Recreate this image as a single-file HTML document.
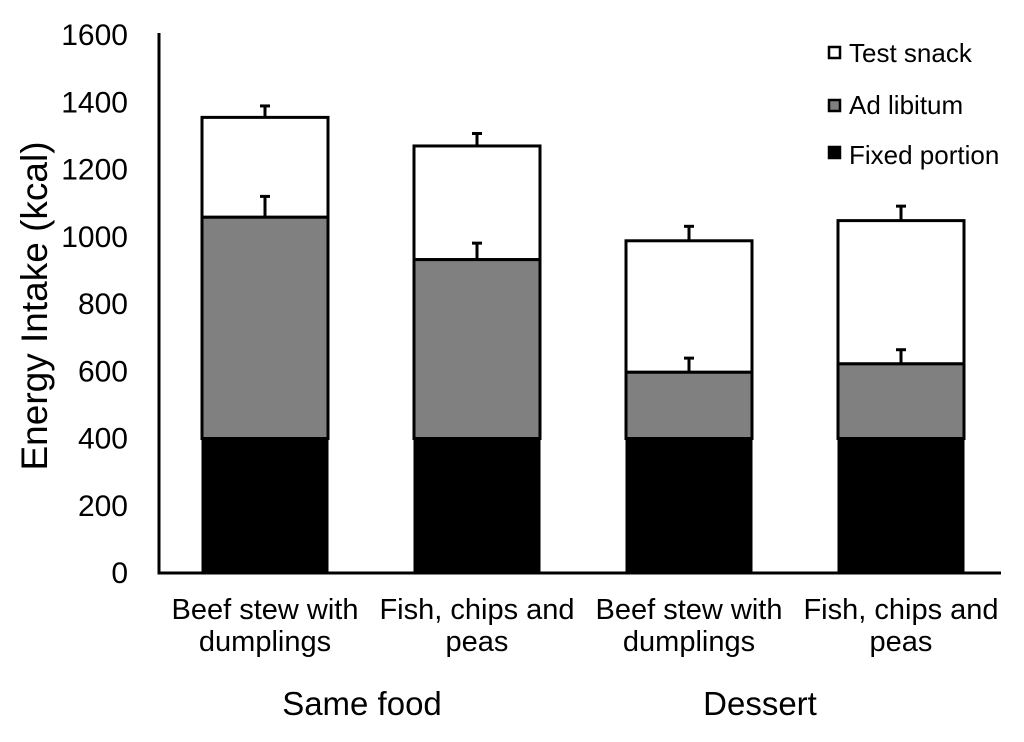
<!DOCTYPE html>
<html><head><meta charset="utf-8"><style>
html,body{margin:0;padding:0;background:#fff;}
svg{display:block;font-family:"Liberation Sans",Arial,sans-serif;}
</style></head><body>
<svg id="chart" width="1024" height="742" viewBox="0 0 1024 742">
<g id="bars"></g>
<g id="axes"></g>
<g id="legend">
  <rect x="829" y="47" width="11" height="11" fill="#fff" stroke="#000" stroke-width="2.5"/>
  <text x="849" y="62" font-size="26">Test snack</text>
  <rect x="829" y="100" width="11" height="11" fill="#808080" stroke="#000" stroke-width="2.5"/>
  <text x="849" y="114" font-size="26">Ad libitum</text>
  <rect x="829" y="147" width="11" height="11" fill="#000" stroke="#000" stroke-width="2.5"/>
  <text x="849" y="164" font-size="26">Fixed portion</text>
</g>
</svg>
<script>
const categories = [["Beef stew with","dumplings"],["Fish, chips and","peas"],["Beef stew with","dumplings"],["Fish, chips and","peas"]];
const groups = ["Same food","Dessert"];
const fixedPortion = [400,400,400,400];
const adLibitumTotal = [1058,932,597,622];
const testSnackTotal = [1355,1270,988,1048];
const adLibitumErr = [65,52,45,45];
const testSnackErr = [37,40,46,46];
const yTicks = [0,200,400,600,800,1000,1200,1400,1600];

const NS="http://www.w3.org/2000/svg";
const y0=573, yTop=35, yMax=1600;
function y(v){return y0-(v/yMax)*(y0-yTop);}
const bandStart=159, bandW=212, barW=126;
function xc(i){return bandStart+bandW*i+bandW/2;}
const groupShift=[-9,-35];
function mk(tag,attrs,parent){const e=document.createElementNS(NS,tag);for(const k in attrs)e.setAttribute(k,attrs[k]);parent.appendChild(e);return e;}
const bars=document.getElementById('bars'), axes=document.getElementById('axes');

categories.forEach((c,i)=>{
  const cx=xc(i), x=cx-barW/2;
  const r1=mk('rect',{x:x,y:y(testSnackTotal[i]),width:barW,height:y(adLibitumTotal[i])-y(testSnackTotal[i]),fill:'#fff',stroke:'#000','stroke-width':3},bars);
  
  
  const r2=mk('rect',{x:x,y:y(adLibitumTotal[i]),width:barW,height:y(fixedPortion[i])-y(adLibitumTotal[i]),fill:'#808080',stroke:'#000','stroke-width':3},bars);
  
  
  const r3=mk('rect',{x:x,y:y(fixedPortion[i]),width:barW,height:y(0)-y(fixedPortion[i]),fill:'#000',stroke:'#000','stroke-width':1},bars);
  
  
  [[testSnackTotal[i],testSnackErr[i],'test-snack'],[adLibitumTotal[i],adLibitumErr[i],'ad-libitum']].forEach(([v,e,n])=>{
    const g=mk('g',{},bars);
    
    
    mk('line',{x1:cx,x2:cx,y1:y(v),y2:y(v+e),stroke:'#000','stroke-width':3},g);
    mk('line',{x1:cx-5,x2:cx+5,y1:y(v+e)+1,y2:y(v+e)+1,stroke:'#000','stroke-width':3},g);
  });
  c.forEach((ln,j)=>{
    const t=mk('text',{x:cx,y:619+j*32,'font-size':29,'text-anchor':'middle'},axes);
    t.textContent=ln;
    
    
  });
});
groups.forEach((g,k)=>{
  const t=mk('text',{x:(xc(2*k)+xc(2*k+1))/2+groupShift[k],y:715,'font-size':33,'text-anchor':'middle'},axes);
  t.textContent=g;
  
  
});
const ya=mk('line',{x1:159,x2:159,y1:33,y2:y0+1.5,stroke:'#000','stroke-width':3},axes);


const xa=mk('line',{x1:157.5,x2:1001,y1:y0,y2:y0,stroke:'#000','stroke-width':3},axes);


yTicks.forEach(v=>{
  const t=mk('text',{x:128,y:y(v)+10,'font-size':30,'text-anchor':'end'},axes);
  t.textContent=v;
  
  
});
const yt=mk('text',{x:0,y:0,'font-size':37,'text-anchor':'middle',transform:'translate(47,306) rotate(-90)'},axes);
yt.textContent='Energy Intake (kcal)';


</script>
</body></html>
